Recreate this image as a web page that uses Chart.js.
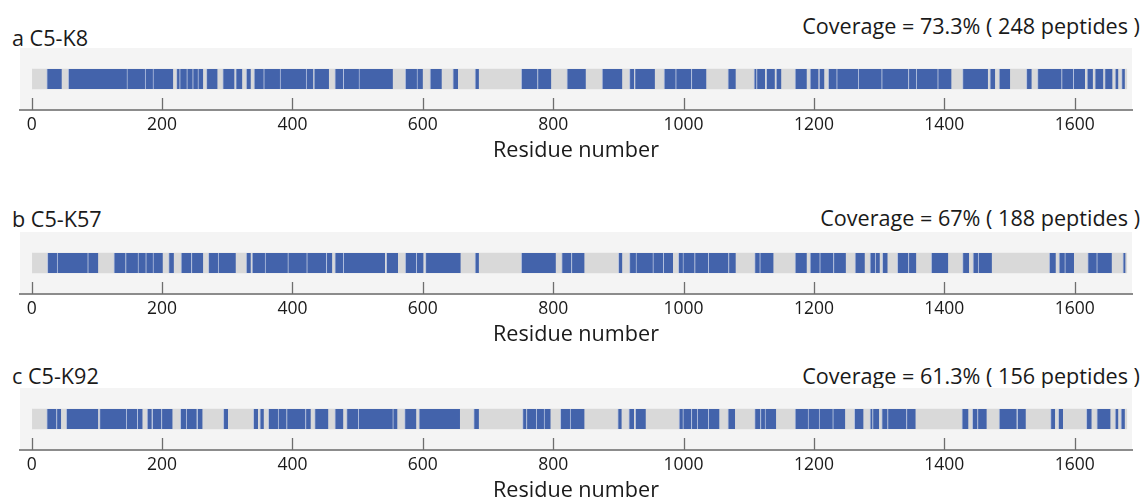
<!DOCTYPE html>
<html>
<head>
<meta charset="utf-8">
<title>C5 peptide coverage</title>
<script src="https://cdn.jsdelivr.net/npm/chart.js@4/dist/chart.umd.min.js"></script>
<style>
  html, body { margin: 0; padding: 0; background: #ffffff; }
  body { width: 1143px; height: 498px; position: relative; overflow: hidden;
         font-family: "Open Sans", "Noto Sans", sans-serif; color: #1a1a1a; }
  .panel-title, .panel-coverage { position: absolute; font-size: 21.6px; line-height: 24px; white-space: nowrap; }
  .panel-title { left: 12px; }
  .panel-coverage { right: 3px; }
  canvas.track { position: absolute; left: 0; }
</style>
</head>
<body>

<div class="panel-title" style="top:26px">a C5-K8</div>
<div class="panel-coverage" style="top:14px">Coverage = 73.3% ( 248 peptides )</div>
<canvas class="track" id="trackK8" width="1143" height="120" style="top:48px"></canvas>

<div class="panel-title" style="top:207px">b C5-K57</div>
<div class="panel-coverage" style="top:206px">Coverage = 67% ( 188 peptides )</div>
<canvas class="track" id="trackK57" width="1143" height="120" style="top:232px"></canvas>

<div class="panel-title" style="top:364px">c C5-K92</div>
<div class="panel-coverage" style="top:364px">Coverage = 61.3% ( 156 peptides )</div>
<canvas class="track" id="trackK92" width="1143" height="120" style="top:388px"></canvas>

<script>
// Residue axis
const residueTicks = [0, 200, 400, 600, 800, 1000, 1200, 1400, 1600];
const sequenceRange = [1, 1680];

// Covered residue spans [start, end] for each crosslinked sample
const peptidesK8 = [
  [23,46],[56,146],[146,174],[174,186],[186,217],[222,227],[227,238],[238,247],[247,255],[255,263],
  [268,285],[293,311],[313,323],[329,336],[341,356],[356,381],[381,421],[421,432],[433,456],[465,478],
  [478,502],[502,554],[573,591],[591,600],[611,629],[646,654],[680,686],[751,776],[776,797],[821,850],
  [875,906],[917,924],[925,956],[970,988],[988,1012],[1012,1035],[1068,1080],[1108,1112],[1112,1125],
  [1127,1140],[1142,1150],[1171,1189],[1194,1207],[1208,1216],[1222,1235],[1235,1268],[1268,1304],
  [1304,1345],[1345,1357],[1357,1390],[1390,1411],[1428,1467],[1470,1478],[1484,1501],[1526,1534],
  [1543,1580],[1580,1598],[1598,1616],[1619,1628],[1631,1644],[1646,1658],[1662,1667],[1672,1677]
];

const peptidesK57 = [
  [24,39],[39,86],[86,102],[126,144],[144,163],[163,175],[175,186],[186,201],[210,218],[229,245],
  [245,263],[271,286],[286,313],[329,336],[338,358],[358,393],[393,422],[422,452],[452,461],[465,478],
  [478,542],[544,562],[573,590],[590,601],[604,658],[680,686],[751,804],[813,828],[828,848],[900,906],
  [917,927],[927,953],[953,969],[969,984],[992,999],[999,1017],[1017,1038],[1038,1069],[1069,1080],
  [1109,1117],[1117,1138],[1171,1189],[1194,1209],[1209,1230],[1230,1249],[1263,1278],[1286,1294],
  [1294,1301],[1305,1313],[1328,1345],[1345,1357],[1380,1406],[1428,1438],[1444,1452],[1452,1473],
  [1561,1571],[1576,1585],[1585,1599],[1620,1634],[1634,1657],[1674,1678]
];

const peptidesK92 = [
  [23,38],[38,45],[53,102],[104,145],[145,162],[162,170],[177,184],[185,199],[199,216],[228,237],
  [237,253],[254,262],[294,301],[340,347],[350,356],[363,378],[378,391],[391,420],[420,428],[434,455],
  [465,478],[483,501],[501,554],[554,561],[572,590],[594,657],[678,686],[753,759],[759,774],[774,786],
  [786,796],[811,826],[826,848],[899,905],[916,924],[926,942],[993,999],[999,1012],[1012,1021],
  [1021,1038],[1038,1055],[1068,1079],[1109,1118],[1118,1125],[1125,1142],[1171,1191],[1191,1208],
  [1208,1229],[1229,1248],[1262,1276],[1286,1290],[1290,1300],[1304,1313],[1313,1342],[1342,1356],
  [1427,1437],[1443,1451],[1451,1465],[1484,1511],[1512,1525],[1563,1570],[1575,1582],[1618,1626],
  [1634,1655],[1662,1667],[1671,1677]
];

const FONT = '"Open Sans", "Noto Sans", sans-serif';
const BLUE = '#4363ab';
const TRACK_GRAY = '#d9d9d9';
const PANEL_BG = '#f4f4f4';
const AXIS_GRAY = '#8c8c8c';

// Light panel behind the track, filling the chart area
const panelBackground = {
  id: 'panelBackground',
  beforeDraw(chart) {
    const { ctx, chartArea: a } = chart;
    ctx.save();
    ctx.fillStyle = PANEL_BG;
    ctx.fillRect(a.left, a.top, a.right - a.left, a.bottom - a.top);
    ctx.restore();
  }
};

// Tick marks that point up from the axis line into the panel
const inwardTicks = {
  id: 'inwardTicks',
  afterDraw(chart) {
    const scale = chart.scales.x;
    const { ctx } = chart;
    ctx.save();
    ctx.strokeStyle = '#6e6e6e';
    ctx.lineWidth = 1.3;
    scale.ticks.forEach(t => {
      const px = Math.round(scale.getPixelForValue(t.value)) + 0.5;
      ctx.beginPath();
      ctx.moveTo(px, scale.top);
      ctx.lineTo(px, scale.top - 12);
      ctx.stroke();
    });
    ctx.restore();
  }
};

function drawCoverage(canvasId, peptides) {
  new Chart(document.getElementById(canvasId), {
    type: 'bar',
    data: {
      labels: ['track'],
      datasets: [
        {
          label: 'covered',
          data: peptides.map(p => ({ y: 'track', x: p })),
          backgroundColor: BLUE,
          borderColor: 'rgba(175,190,225,0.85)',
          borderWidth: { left: 1, right: 0, top: 0, bottom: 0 },
          borderSkipped: false,
          barThickness: 20,
          grouped: false,
          order: 1
        },
        {
          label: 'sequence',
          data: [{ y: 'track', x: sequenceRange }],
          backgroundColor: TRACK_GRAY,
          borderWidth: 0,
          barThickness: 20,
          grouped: false,
          order: 2
        }
      ]
    },
    options: {
      indexAxis: 'y',
      responsive: false,
      animation: false,
      events: [],
      layout: { padding: { left: 20, right: 11, top: 0, bottom: 0 } },
      plugins: { legend: { display: false }, tooltip: { enabled: false } },
      scales: {
        y: { display: false },
        x: {
          type: 'linear',
          min: -18,
          max: 1688,
          afterBuildTicks(scale) { scale.ticks = residueTicks.map(v => ({ value: v })); },
          afterFit(scale) { scale.height = 58; },
          grid: { display: true, drawOnChartArea: false, drawTicks: false,
                  color: 'rgba(0,0,0,0)' },
          border: { display: true, color: AXIS_GRAY, width: 2 },
          ticks: { color: '#1a1a1a', padding: 5, maxRotation: 0, autoSkip: false,
                   callback: v => String(v),
                   font: { family: FONT, size: 17.5 } },
          title: { display: true, text: 'Residue number', color: '#1a1a1a',
                   padding: { top: 0, bottom: 4 },
                   font: { family: FONT, size: 21.6 } }
        }
      }
    },
    plugins: [panelBackground, inwardTicks]
  });
}

drawCoverage('trackK8', peptidesK8);
drawCoverage('trackK57', peptidesK57);
drawCoverage('trackK92', peptidesK92);
</script>
</body>
</html>
